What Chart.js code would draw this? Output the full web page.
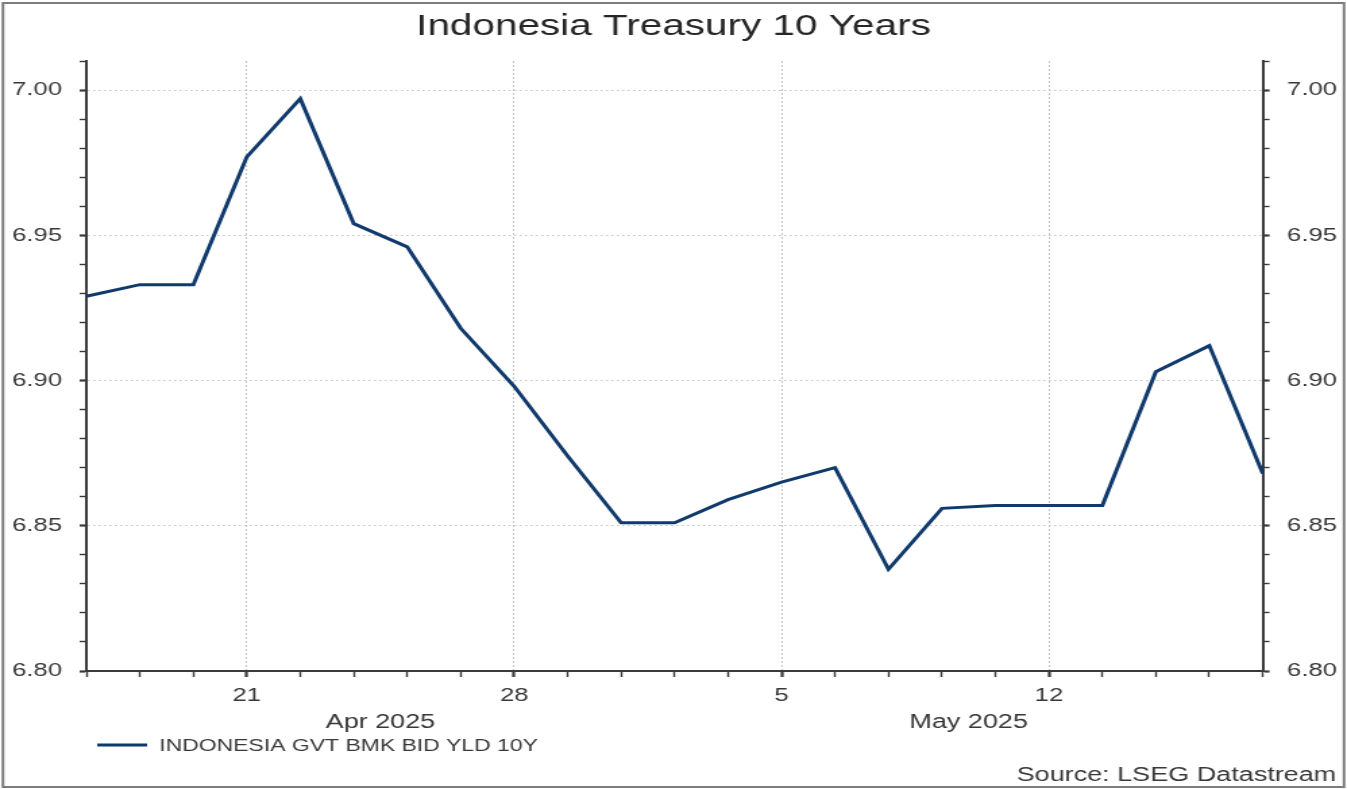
<!DOCTYPE html>
<html>
<head>
<meta charset="utf-8">
<title>Indonesia Treasury 10 Years</title>
<script src="https://cdn.jsdelivr.net/npm/chart.js@4.4.1/dist/chart.umd.min.js"></script>
<style>
  html, body { margin: 0; padding: 0; background: #fff; }
  #chart { display: block; }
</style>
</head>
<body>
<!-- the reference picture is stretched sideways, so the canvas is drawn narrower and widened by its inline style -->
<canvas id="chart" width="998" height="789" style="width:1347px;height:789px"></canvas>
<script>
const titleText = 'Indonesia Treasury 10 Years';
const seriesName = 'INDONESIA GVT BMK BID YLD 10Y';
const sourceText = 'Source: LSEG Datastream';

// trading days shown on the x axis
const dates = [
  '2025-04-16', '2025-04-17', '2025-04-18',
  '2025-04-21', '2025-04-22', '2025-04-23', '2025-04-24', '2025-04-25',
  '2025-04-28', '2025-04-29', '2025-04-30', '2025-05-01', '2025-05-02',
  '2025-05-05', '2025-05-06', '2025-05-07', '2025-05-08', '2025-05-09',
  '2025-05-12', '2025-05-13', '2025-05-14', '2025-05-15', '2025-05-16'
];

// 10y benchmark bid yield, %
const yields = [
  6.929, 6.933, 6.933,
  6.977, 6.997, 6.954, 6.946, 6.918,
  6.898, 6.874, 6.851, 6.851, 6.859,
  6.865, 6.870, 6.835, 6.856, 6.857,
  6.857, 6.857, 6.903, 6.912, 6.868
];

// month captions under the day labels, placed at a position on the day index
const monthLabels = [
  { text: 'Apr 2025', at: 5.5 },
  { text: 'May 2025', at: 16.5 }
];

const yMin = 6.80;
const yMax = 7.01;

const FONT = '"Liberation Sans", Arial, sans-serif';
const lineColor = '#103a6c';
const axisColor = '#3a3a3a';
const textColor = '#383838';
const gridColor = '#c4c4c4';

const isMonday = i => new Date(dates[i] + 'T00:00:00Z').getUTCDay() === 1;
const isMajorY = v => Math.round(v * 100) % 5 === 0;

const yTicks = {
  stepSize: 0.01,
  padding: 13,
  color: textColor,
  font: { family: FONT, size: 19 },
  callback: v => isMajorY(v) ? v.toFixed(2) : ''
};

function yGrid(onChart) {
  return {
    drawOnChartArea: onChart,
    tickLength: 5,
    color: ctx => (isMajorY(ctx.tick.value) && ctx.tick.value > yMin + 0.001) ? gridColor : 'rgba(0,0,0,0)',
    tickColor: axisColor,
    tickWidth: ctx => isMajorY(ctx.tick.value) ? 2.2 : 1.4
  };
}

const decor = {
  id: 'decor',
  beforeDraw(chart) {
    const { ctx, width, height } = chart;
    ctx.save();
    ctx.fillStyle = '#fff';
    ctx.fillRect(0, 0, width, height);
    ctx.restore();
  },
  afterDraw(chart) {
    const { ctx, width, height } = chart;
    const xs = chart.scales.x;
    ctx.save();

    // frame round the picture
    ctx.strokeStyle = '#7c7c7c';
    ctx.lineWidth = 2;
    ctx.strokeRect(2.2, 3, width - 4.4, height - 5);

    ctx.fillStyle = '#262626';
    ctx.font = '30px ' + FONT;
    ctx.textAlign = 'center';
    ctx.textBaseline = 'middle';
    ctx.fillText(titleText, width / 2, 27);

    ctx.fillStyle = textColor;
    ctx.font = '20px ' + FONT;
    monthLabels.forEach(m => ctx.fillText(m.text, xs.getPixelForValue(m.at), 722));

    // legend
    ctx.strokeStyle = lineColor;
    ctx.lineWidth = 3;
    ctx.beginPath();
    ctx.moveTo(72, 745);
    ctx.lineTo(109, 745);
    ctx.stroke();
    ctx.textAlign = 'left';
    ctx.font = '17px ' + FONT;
    ctx.fillText(seriesName, 118, 746);

    ctx.textAlign = 'right';
    ctx.font = '20px ' + FONT;
    ctx.fillText(sourceText, 990, 775);

    ctx.restore();
  }
};

new Chart(document.getElementById('chart'), {
  type: 'line',
  data: {
    labels: dates,
    datasets: [{
      label: seriesName,
      data: yields,
      yAxisID: 'y',
      borderColor: lineColor,
      borderWidth: 3,
      pointRadius: 0,
      tension: 0,
      fill: false
    }]
  },
  options: {
    responsive: false,
    animation: false,
    devicePixelRatio: 1,
    layout: { padding: { top: 61, left: 0, right: 0, bottom: 0 } },
    plugins: {
      legend: { display: false },
      title: { display: false },
      tooltip: { enabled: false }
    },
    scales: {
      x: {
        type: 'category',
        offset: false,
        afterFit: s => { s.height = 118; },
        border: { display: true, color: axisColor, width: 2, dash: [2, 2] },
        grid: {
          tickLength: 6,
          color: ctx => isMonday(ctx.index) ? gridColor : 'rgba(0,0,0,0)',
          tickColor: axisColor,
          tickWidth: ctx => isMonday(ctx.index) ? 2.2 : 1.4
        },
        ticks: {
          autoSkip: false,
          maxRotation: 0,
          padding: 7,
          color: textColor,
          font: { family: FONT, size: 19 },
          callback: (v, i) => isMonday(i) ? String(Number(dates[i].slice(8))) : ''
        }
      },
      y: {
        position: 'left',
        min: yMin,
        max: yMax,
        afterFit: s => { s.width = 64; },
        border: { display: true, color: axisColor, width: 2, dash: [1.5, 2.5] },
        grid: yGrid(true),
        ticks: yTicks
      },
      y2: {
        position: 'right',
        min: yMin,
        max: yMax,
        afterFit: s => { s.width = 62.4; },
        border: { display: true, color: axisColor, width: 2 },
        grid: yGrid(false),
        ticks: yTicks
      }
    }
  },
  plugins: [decor]
});
</script>
</body>
</html>
